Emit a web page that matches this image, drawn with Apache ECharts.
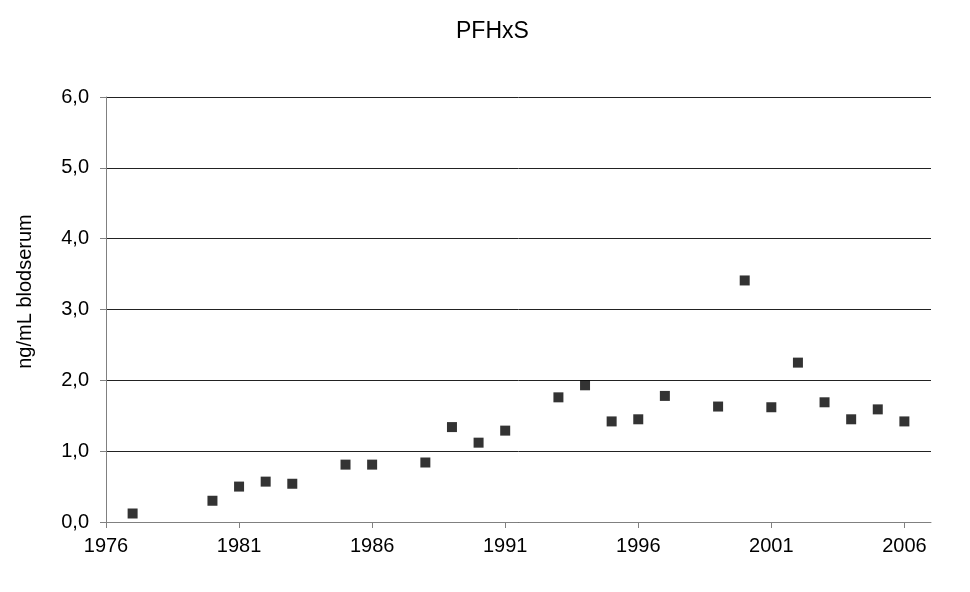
<!DOCTYPE html>
<html>
<head>
<meta charset="utf-8">
<script src="https://cdn.jsdelivr.net/npm/echarts@6/dist/echarts.min.js"></script>
<style>
  html, body { margin: 0; padding: 0; background: #fff; }
  #chart { width: 970px; height: 592px; }
</style>
</head>
<body>
<div id="chart"></div>
<script>
// PFHxS in blood serum, one value per sampling year
var years = [1977, 1980, 1981, 1982, 1983, 1985, 1986, 1988, 1989, 1990, 1991,
             1993, 1994, 1995, 1996, 1997, 1999, 2000, 2001, 2002, 2003, 2004, 2005, 2006]
var values = [0.12, 0.30, 0.50, 0.57, 0.54, 0.81, 0.81, 0.84, 1.34, 1.12, 1.29,
              1.76, 1.93, 1.42, 1.45, 1.78, 1.63, 3.41, 1.62, 2.25, 1.69, 1.45, 1.59, 1.42]
var yearTicks = [1976, 1981, 1986, 1991, 1996, 2001, 2006]

var points = years.map(function (y, i) { return [y, values[i]] })

var myChart = echarts.init(document.getElementById('chart'))
var option = {
  animation: false,
  textStyle: { fontFamily: 'Liberation Sans, Arial, sans-serif' },
  title: {
    text: 'PFHxS',
    left: 451,
    top: 15,
    textStyle: { fontSize: 23, fontWeight: 'normal', color: '#000' }
  },
  grid: { left: 106, right: 39, top: 97, bottom: 70 },
  xAxis: {
    type: 'value',
    min: 1976,
    max: 2007,
    axisLine: { lineStyle: { color: '#808080', width: 1 } },
    axisTick: { show: true, length: 6, customValues: yearTicks, lineStyle: { color: '#808080' } },
    axisLabel: {
      customValues: yearTicks,
      fontSize: 20,
      color: '#000',
      margin: 14,
      formatter: function (v) { return String(v) }
    },
    splitLine: { show: false }
  },
  yAxis: {
    type: 'value',
    min: 0,
    max: 6,
    interval: 1,
    name: 'ng/mL blodserum',
    nameLocation: 'middle',
    nameGap: 71,
    nameTextStyle: { fontSize: 20, color: '#000', padding: [0, 0, 0, 36] },
    axisLine: { show: true, lineStyle: { color: '#808080', width: 1 } },
    axisTick: { show: true, length: 6, lineStyle: { color: '#808080' } },
    axisLabel: {
      fontSize: 20,
      color: '#000',
      margin: 17,
      formatter: function (v) { return v.toFixed(1).replace('.', ',') }
    },
    splitLine: { show: true, lineStyle: { color: '#222', width: 1 } }
  },
  series: [
    {
      type: 'scatter',
      symbol: 'rect',
      symbolSize: 10,
      itemStyle: { color: '#000' },
      data: points
    }
  ]
}

myChart.setOption(option)
</script>
</body>
</html>
